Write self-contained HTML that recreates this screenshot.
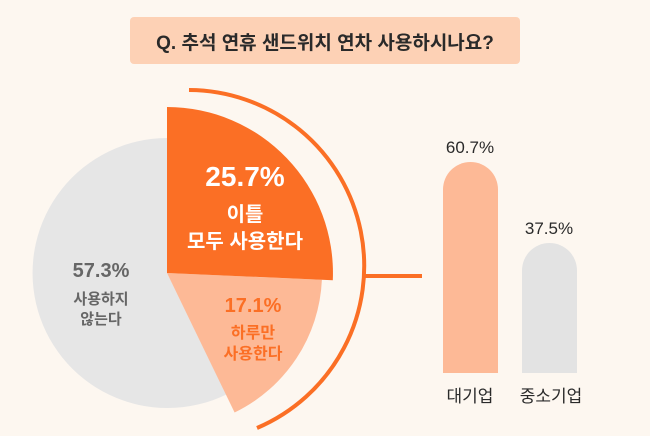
<!DOCTYPE html>
<html><head><meta charset="utf-8"><style>
body{margin:0;background:#fdf7f0;}
svg{display:block;font-family:"Liberation Sans","Noto Sans CJK KR",sans-serif;}
</style></head><body>
<svg width="650" height="436" viewBox="0 0 650 436">
<rect width="650" height="436" fill="#fdf7f0"/>
<rect x="130" y="17" width="390" height="47" rx="4" fill="#fdd1b5"/>
<text x="325" y="49" text-anchor="middle" font-size="19" font-weight="bold" fill="#2a2a2a">Q. 추석 연휴 샌드위치 연차 사용하시나요?</text>
<path d="M167,273 L226.4,394.5 A135,135 0 1,1 167,138 Z" fill="#e6e6e6"/>
<path d="M167,273 L321.9,279.8 A155,155 0 0,1 234.6,412.5 Z" fill="#fdb996"/>
<path d="M167,273 L167,107 A166,166 0 0,1 332.8,280.2 Z" fill="#fb6f25"/>
<path d="M189,90 A176,176 0 0,1 257,428" fill="none" stroke="#fb6f25" stroke-width="4"/>
<line x1="362" y1="276" x2="422" y2="276" stroke="#fb6f25" stroke-width="4"/>
<text x="245" y="186" text-anchor="middle" font-size="28" font-weight="bold" fill="#fff">25.7%</text>
<text x="245" y="221" text-anchor="middle" font-size="20" font-weight="bold" fill="#fff">이틀</text>
<text x="245" y="248" text-anchor="middle" font-size="20" font-weight="bold" fill="#fff">모두 사용한다</text>
<text x="253" y="312" text-anchor="middle" font-size="20" font-weight="bold" fill="#fb6f25">17.1%</text>
<text x="253" y="338" text-anchor="middle" font-size="16" font-weight="bold" fill="#fb6f25">하루만</text>
<text x="253" y="359" text-anchor="middle" font-size="16" font-weight="bold" fill="#fb6f25">사용한다</text>
<text x="101" y="277" text-anchor="middle" font-size="20" font-weight="bold" fill="#666">57.3%</text>
<text x="101" y="304" text-anchor="middle" font-size="15" font-weight="bold" fill="#666">사용하지</text>
<text x="101" y="324" text-anchor="middle" font-size="15" font-weight="bold" fill="#666">않는다</text>
<path d="M443,373 L443,189.5 A27.5,27.5 0 0,1 498,189.5 L498,373 Z" fill="#fdb996"/>
<path d="M522,373 L522,270.5 A27.5,27.5 0 0,1 577,270.5 L577,373 Z" fill="#e3e3e3"/>
<text x="470" y="153" text-anchor="middle" font-size="17" fill="#2a2a2a">60.7%</text>
<text x="549" y="234" text-anchor="middle" font-size="17" fill="#2a2a2a">37.5%</text>
<text x="470" y="402" text-anchor="middle" font-size="17" fill="#2a2a2a">대기업</text>
<text x="551" y="402" text-anchor="middle" font-size="17" fill="#2a2a2a">중소기업</text>
</svg>
</body></html>
